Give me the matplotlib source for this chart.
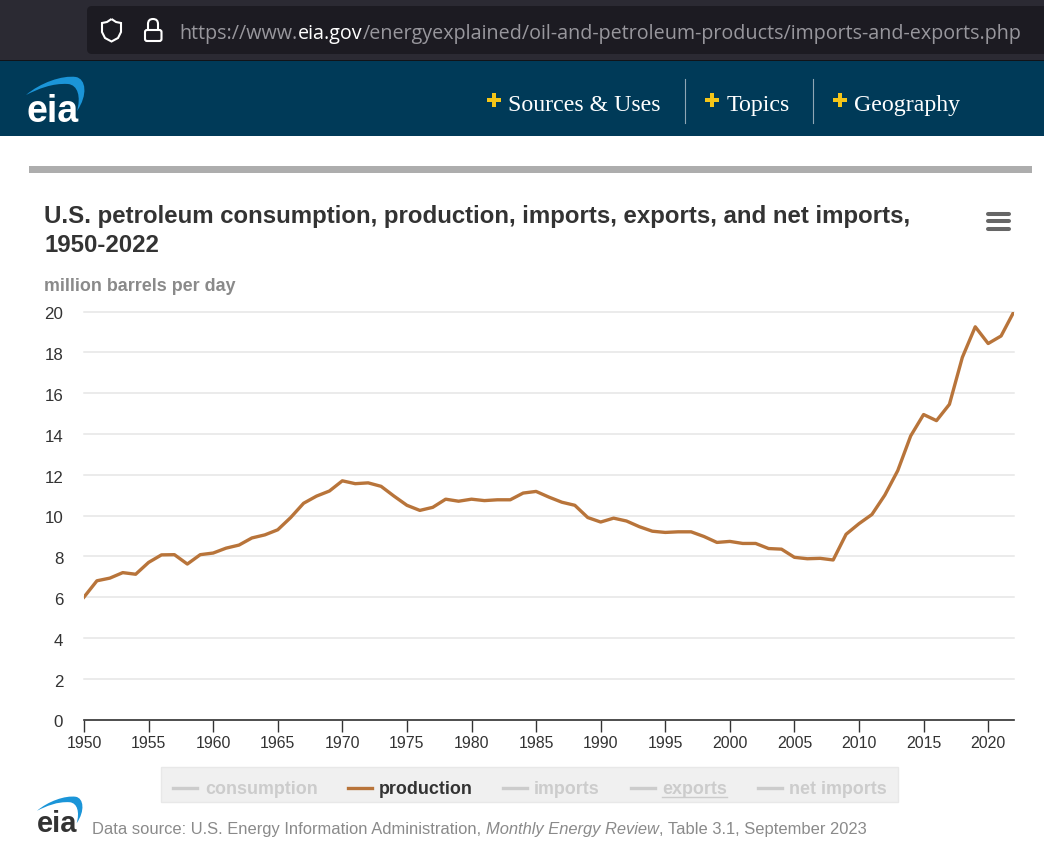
import matplotlib
matplotlib.use('Agg')
import matplotlib.pyplot as plt
from matplotlib.patches import Rectangle, FancyBboxPatch, PathPatch
from matplotlib.path import Path
from matplotlib.transforms import ScaledTranslation

plt.rcParams['font.family'] = ['Liberation Sans', 'DejaVu Sans']

# data
years = list(range(1950, 2023))
production = [
    6.0, 6.8, 6.93, 7.2, 7.12, 7.7, 8.07, 8.08, 7.62, 8.08,
    8.16, 8.4, 8.55, 8.9, 9.05, 9.3, 9.9, 10.6, 10.95, 11.2,
    11.7, 11.56, 11.6, 11.43, 10.95, 10.5, 10.25, 10.4, 10.8, 10.7,
    10.8, 10.73, 10.77, 10.77, 11.1, 11.18, 10.9, 10.65, 10.5, 9.9,
    9.68, 9.87, 9.73, 9.45, 9.23, 9.17, 9.2, 9.2, 8.97, 8.68,
    8.73, 8.63, 8.63, 8.38, 8.35, 7.95, 7.88, 7.9, 7.82, 9.08,
    9.6, 10.05, 11.0, 12.2, 13.9, 14.95, 14.65, 15.45, 17.75, 19.25,
    18.43, 18.8, 20.0,
]
x_ticks = list(range(1950, 2021, 5))
y_ticks = list(range(0, 21, 2))
legend_names = ['consumption', 'production', 'imports', 'exports', 'net imports']
nav_items = ['Sources & Uses', 'Topics', 'Geography']

W, H = 1044, 845
fig = plt.figure(figsize=(W / 100, H / 100), dpi=100, facecolor='white')

# page layer in pixel coordinates (y goes down like the screenshot)
page = fig.add_axes([0, 0, 1, 1])
page.set_xlim(0, W)
page.set_ylim(H, 0)
page.axis('off')

# browser bar
page.add_patch(Rectangle((0, 0), W, 61, color='#2b2a33', lw=0))
page.add_patch(FancyBboxPatch((87, 7), W, 48, boxstyle='round,pad=0,rounding_size=5',
                              fc='#1c1b22', ec='none'))
page.add_patch(Rectangle((0, 61), W, 1.5, color='#111318', lw=0))
shield = Path([(111.5, 20), (116, 23), (121, 24), (121, 33), (118, 39), (111.5, 42.5), (105, 39), (102, 33),
               (102, 24), (107, 23), (111.5, 20)])
page.add_patch(PathPatch(shield, fc='none', ec='white', lw=1.5))
page.add_patch(FancyBboxPatch((148, 20), 10, 20, boxstyle='round,pad=0,rounding_size=5',
                              fc='none', ec='white', lw=1.5, zorder=1))
page.add_patch(FancyBboxPatch((145, 31), 16.5, 11, boxstyle='round,pad=0,rounding_size=2',
                              fc='#1c1b22', ec='white', lw=1.5, zorder=1.5))

url_y = 34
url_size = 14.2
t1 = page.text(179.5, url_y, 'https://www.', color='#98979d', fontsize=url_size, va='center', family='Open Sans')
t2 = page.annotate('eia.gov', xy=(1, 0), xycoords=t1, color='white', fontsize=url_size, va='bottom', family='Open Sans')
page.annotate('/energyexplained/oil-and-petroleum-products/imports-and-exports.php', xy=(1, 0), xycoords=t2,
              color='#98979d', fontsize=url_size, va='bottom', family='Open Sans')

# site header
page.add_patch(Rectangle((0, 62), W, 75, color='#003a58', lw=0))


def eia_logo(x, y, size, text_color, arc_color):
    # x, y = left end of the word baseline, size = fontsize of the word
    k = size / 27.0
    page.text(x, y, 'eia', color=text_color, fontsize=size, fontweight='bold', family='Liberation Sans',
              va='baseline', ha='left')
    pts = [(0, -26), (14, -38), (36, -46), (50, -44), (60, -42), (62, -26), (51, -10),
           (55, -24), (52, -36), (42, -37), (26, -38), (12, -32), (0, -26)]
    codes = [Path.MOVETO] + [Path.CURVE4] * 12
    swoosh = Path([(x + px * k, y + py * k) for px, py in pts], codes)
    page.add_patch(PathPatch(swoosh, fc=arc_color, ec='none'))


eia_logo(26, 122, 27, 'white', '#1b95d8')

nav_x = [508, 727, 854]
plus_x = [494, 712, 840]
for name, nx, px in zip(nav_items, nav_x, plus_x):
    page.text(nx, 111, name, color='white', fontsize=17.2, va='baseline', family='Liberation Serif')
    page.plot([px], [101], marker='P', ms=10, color='#f5c518', mew=0)
for sx in [684.5, 812.5]:
    page.plot([sx, sx], [80, 124], color='#8fa6b4', lw=0.8)

# grey rule above the chart
page.add_patch(Rectangle((29, 167), 1003, 7, color='#adadad', lw=0))

# chart title etc
page.text(44, 217, 'U.S. petroleum consumption, production, imports, exports, and net imports,',
          fontsize=17.3, fontweight='bold', color='#333333', va='center')
page.text(44, 246, '1950-2022', fontsize=17.3, fontweight='bold', color='#333333', va='center')
page.text(44, 287, 'million barrels per day', fontsize=12.9, fontweight='bold', color='#8a8a8a', va='center')

# hamburger menu
for my in [214.5, 222, 229.5]:
    page.plot([987.5, 1009], [my, my], color='#666666', lw=2.9, solid_capstyle='round')

# main axes, 1950 at x=84, 2022 at x=1014, 0 at y=720.5, 20 at y=312.5
ax = fig.add_axes([84 / W, (H - 720.5) / H, 930 / W, 408 / H])
ax.patch.set_alpha(0)
ax.plot(years, production, color='#b8743a', lw=2.4, solid_joinstyle='round')
ax.set_xlim(1950, 2022)
ax.set_ylim(0, 20)
ax.set_xticks(x_ticks)
ax.set_yticks(y_ticks)
ax.grid(axis='y', color='#e6e6e6', lw=1.1, clip_on=False)
ax.set_axisbelow(True)
for side in ['top', 'right', 'left']:
    ax.spines[side].set_visible(False)
ax.spines['bottom'].set_color('#333333')
ax.spines['bottom'].set_linewidth(1.2)
ax.tick_params(axis='x', length=8.5, width=1, color='#333333', labelsize=11.4, labelcolor='#333333', pad=2.5)
ax.tick_params(axis='y', length=0, labelsize=12.2, labelcolor='#333333', pad=15)
nudge = ScaledTranslation(0, -0.7 / 72, fig.dpi_scale_trans)
for lab in ax.get_yticklabels():
    lab.set_transform(lab.get_transform() + nudge)

# legend box, dead series greyed out like the page does
page.set_zorder(2)
ax.set_zorder(1)
page.add_patch(Rectangle((161, 767.5), 737, 35.5, fc='#f0f0f0', ec='#e8e8e8', lw=1))
leg_line_x = [173, 348, 503, 631, 758]
leg_text_x = [205, 379, 534, 662, 789]
for name, lx, tx in zip(legend_names, leg_line_x, leg_text_x):
    active = name == 'production'
    page.plot([lx, lx + 24], [788.5, 788.5], color='#b8743a' if active else '#cccccc', lw=2.4)
    page.text(tx, 794.5, name, fontsize=12.9, fontweight='bold', va='baseline',
              color='#333333' if active else '#cccccc')
page.plot([662, 727], [798, 798], color='#cccccc', lw=1)

# source line and logo
eia_logo(37, 832, 21, '#333333', '#1b95d8')
src_size = 11.87
t = page.text(92, 830, 'Data source: U.S. Energy Information Administration, ', fontsize=src_size, color='#8a8a8a', va='center')
t3 = page.annotate('Monthly Energy Review', xy=(1, 0), xycoords=t, fontsize=src_size, color='#8a8a8a', va='bottom', style='italic')
page.annotate(', Table 3.1, September 2023', xy=(1, 0), xycoords=t3, fontsize=src_size, color='#8a8a8a', va='bottom')

fig.savefig('out.png', dpi=100)
